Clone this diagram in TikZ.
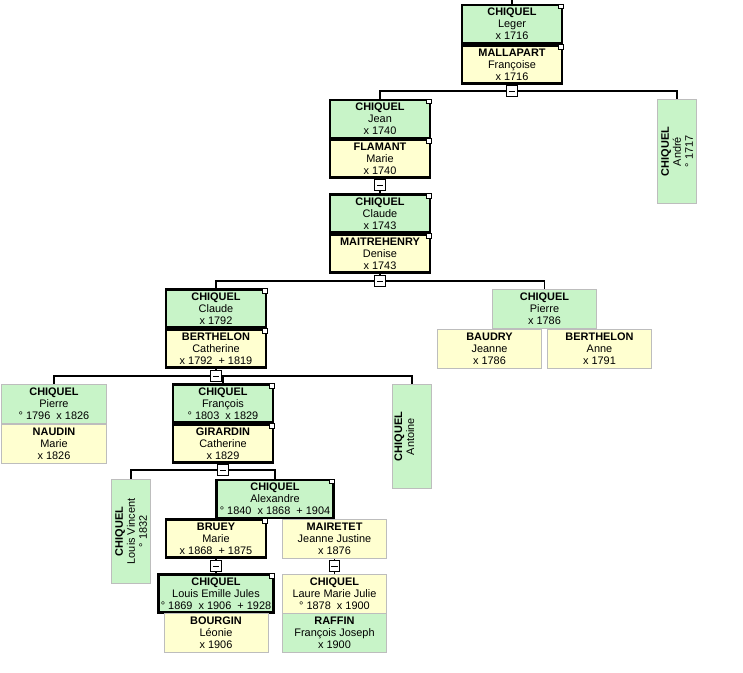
\documentclass[tikz,border=0pt]{standalone}
\usepackage{fontspec}
\setmainfont{Liberation Sans}
\usetikzlibrary{calc}
\definecolor{mgreen}{HTML}{C8F4C8}
\definecolor{fyellow}{HTML}{FFFFD0}
\definecolor{edgegray}{HTML}{BDBDBD}
\newcommand{\person}[3]{\textbf{#1}\\#2\\#3}
\tikzset{
  card/.style={rectangle,align=center,inner sep=0pt,text=black,
    font=\fontsize{8.2}{9}\selectfont,draw=edgegray,line width=.75pt,
    minimum width=78pt,minimum height=29.25pt},
  flag/.style={draw=black,fill=white,line width=.6pt,minimum size=3.6pt,inner sep=0pt},
  lead/.style={card,draw=black,line width=2.2pt,minimum width=75pt,minimum height=28.5pt,
    append after command={node[flag,anchor=north east] at (\tikzlastnode.north east) {}}},
  side/.style={card,rotate=90,minimum width=78pt,minimum height=29.25pt},
  male/.style={fill=mgreen},
  female/.style={fill=fyellow},
  fold/.style={draw=black,fill=white,line width=.6pt,minimum size=7.8pt,inner sep=0pt,
    path picture={\draw[line width=.6pt] ([xshift=1.6pt]path picture bounding box.west)
      -- ([xshift=-1.6pt]path picture bounding box.east);}},
  link/.style={draw=black,line width=.8pt}}
\begin{document}
\begin{tikzpicture}[x=.75pt,y=-.75pt]
\useasboundingbox (0,0) rectangle (743,672);
% ancestors
\coordinate (top) at (512,0);
\node[lead,male]   (leger)     at (512,24)   {\person{CHIQUEL}{Leger}{x 1716}};
\node[lead,female] (mallapart) at (512,64.5) {\person{MALLAPART}{Françoise}{x 1716}};
\node[fold] (f1) at (512,91) {};
\node[side,male] (andre) at (677,151.5) {\person{CHIQUEL}{André}{° 1717}};
\node[lead,male]   (jean)      at (380,119)   {\person{CHIQUEL}{Jean}{x 1740}};
\node[lead,female] (flamant)   at (380,158.5) {\person{FLAMANT}{Marie}{x 1740}};
\node[fold] (f2) at (380,185) {};
\node[lead,male]   (claudeA)   at (380,213.5) {\person{CHIQUEL}{Claude}{x 1743}};
\node[lead,female] (maitre)    at (380,253.5) {\person{MAITREHENRY}{Denise}{x 1743}};
\node[fold] (f3) at (380,281) {};
% generation of 1792
\node[lead,male]   (claudeB)   at (216,308.5) {\person{CHIQUEL}{Claude}{x 1792}};
\node[lead,female] (berthC)    at (216,348.5) {\person{BERTHELON}{Catherine}{x 1792~ + 1819}};
\node[fold] (f4) at (216,376) {};
\node[card,male]   (pierreB)   at (544.5,308.5) {\person{CHIQUEL}{Pierre}{x 1786}};
\node[card,female] (baudry)    at (489.5,349)   {\person{BAUDRY}{Jeanne}{x 1786}};
\node[card,female] (berthA)    at (599.5,349)   {\person{BERTHELON}{Anne}{x 1791}};
% generation of 1803
\node[card,male,minimum width=79pt] (pierreC) at (54,404) {\person{CHIQUEL}{Pierre}{° 1796~ x 1826}};
\node[card,female,minimum width=79pt] (naudin) at (54,444) {\person{NAUDIN}{Marie}{x 1826}};
\node[lead,male]   (francois)  at (223,403.5) {\person{CHIQUEL}{François}{° 1803~ x 1829}};
\node[lead,female] (girardin)  at (223,443.5) {\person{GIRARDIN}{Catherine}{x 1829}};
\node[fold] (f5) at (223,470) {};
\node[side,male] (antoine) at (412,436.5) {\textbf{CHIQUEL}\\Antoine\\\strut};
% generation of 1840
\node[side,male] (louisV) at (131,531.5) {\person{CHIQUEL}{Louis Vincent}{° 1832}};
\node[lead,male,minimum width=87.75pt] (alexandre) at (275,499) {\person{CHIQUEL}{Alexandre}{° 1840~ x 1868~ + 1904}};
\node[lead,female] (bruey)     at (216,538.5)   {\person{BRUEY}{Marie}{x 1868~ + 1875}};
\node[card,female] (mairetet)  at (334.5,538.5) {\person{MAIRETET}{Jeanne Justine}{x 1876}};
\node[fold] (f6) at (216,566) {};
\node[fold] (f7) at (334.5,566) {};
% generation of 1869
\node[lead,male,minimum width=86.25pt] (louisE) at (216,593.5) {\person{CHIQUEL}{Louis Emille Jules}{° 1869~ x 1906~ + 1928}};
\node[card,female] (bourgin)   at (216,633)     {\person{BOURGIN}{Léonie}{x 1906}};
\node[card,female] (laure)     at (334.5,593.5) {\person{CHIQUEL}{Laure Marie Julie}{° 1878~ x 1900}};
\node[card,male]   (raffin)    at (334.5,633)   {\person{RAFFIN}{François Joseph}{x 1900}};
% connectors
\draw[link] (top) -- (leger);
\draw[link] (mallapart) -- (f1);
\draw[link] (f1.west) -| (jean.north);
\draw[link] (f1.east) -| (andre.east);
\draw[link] (flamant) -- (f2) -- (claudeA);
\draw[link] (maitre) -- (f3);
\draw[link] (f3.west) -| (claudeB.north);
\draw[link] (f3.east) -| (pierreB.north);
\draw[link] (berthC) -- (f4);
\draw[link] (f4.west) -| (pierreC.north);
\draw[link] (f4.east) -| (francois.north);
\draw[link] (f4.east) -| (antoine.east);
\draw[link] (girardin) -- (f5);
\draw[link] (f5.west) -| (louisV.east);
\draw[link] (f5.east) -| (alexandre.north);
\draw[link] (bruey) -- (f6) -- (louisE);
\draw[link] (mairetet) -- (f7) -- (laure);
\end{tikzpicture}
\end{document}
